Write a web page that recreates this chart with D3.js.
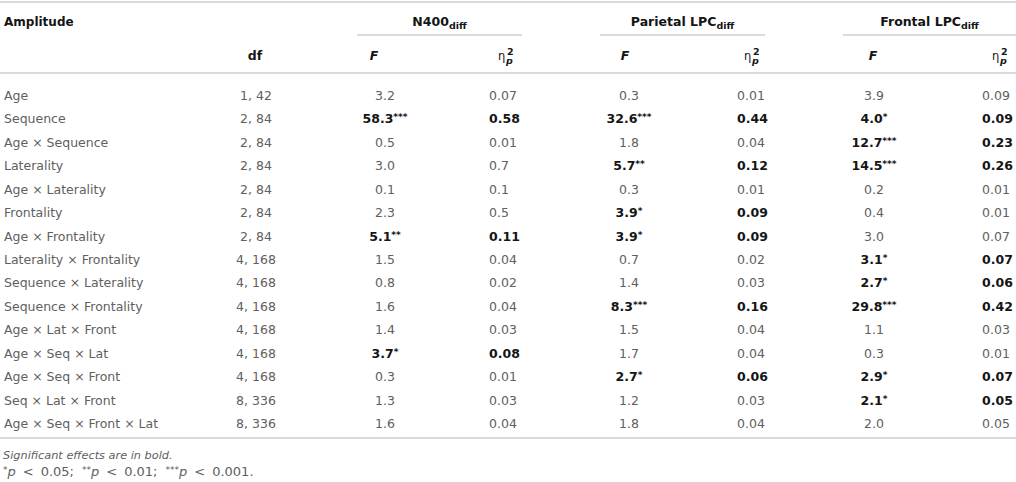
<!DOCTYPE html>
<html>
<head>
<meta charset="utf-8">
<script src="https://cdn.jsdelivr.net/npm/d3@7/dist/d3.min.js"></script>
<style>
  html, body { margin: 0; padding: 0; background: #fff; }
  svg { display: block; }
  text { font-family: "DejaVu Sans", Verdana, sans-serif; }
</style>
</head>
<body>
<svg id="chart" width="1016" height="482"></svg>
<script>
// ---------- data ----------
const effects = [
  "Age", "Sequence", "Age \u00d7 Sequence", "Laterality", "Age \u00d7 Laterality",
  "Frontality", "Age \u00d7 Frontality", "Laterality \u00d7 Frontality",
  "Sequence \u00d7 Laterality", "Sequence \u00d7 Frontality", "Age \u00d7 Lat \u00d7 Front",
  "Age \u00d7 Seq \u00d7 Lat", "Age \u00d7 Seq \u00d7 Front", "Seq \u00d7 Lat \u00d7 Front",
  "Age \u00d7 Seq \u00d7 Front \u00d7 Lat"
];
const dfs = ["1, 42", "2, 84", "2, 84", "2, 84", "2, 84", "2, 84", "2, 84",
  "4, 168", "4, 168", "4, 168", "4, 168", "4, 168", "4, 168", "8, 336", "8, 336"];

const n400F   = ["3.2", "58.3***", "0.5", "3.0", "0.1", "2.3", "5.1**", "1.5", "0.8", "1.6", "1.4", "3.7*", "0.3", "1.3", "1.6"];
const n400Eta = ["0.07", "0.58", "0.01", "0.7", "0.1", "0.5", "0.11", "0.04", "0.02", "0.04", "0.03", "0.08", "0.01", "0.03", "0.04"];
const parF    = ["0.3", "32.6***", "1.8", "5.7**", "0.3", "3.9*", "3.9*", "0.7", "1.4", "8.3***", "1.5", "1.7", "2.7*", "1.2", "1.8"];
const parEta  = ["0.01", "0.44", "0.04", "0.12", "0.01", "0.09", "0.09", "0.02", "0.03", "0.16", "0.04", "0.04", "0.06", "0.03", "0.04"];
const froF    = ["3.9", "4.0*", "12.7***", "14.5***", "0.2", "0.4", "3.0", "3.1*", "2.7*", "29.8***", "1.1", "0.3", "2.9*", "2.1*", "2.0"];
const froEta  = ["0.09", "0.09", "0.23", "0.26", "0.01", "0.01", "0.07", "0.07", "0.06", "0.42", "0.03", "0.01", "0.07", "0.05", "0.05"];

const groupNames = ["N400", "Parietal LPC", "Frontal LPC"];
const groupSub = "diff";
const headerTitle = "Amplitude";
const dfHeader = "df";
const footnote1 = "Significant effects are in bold.";
const footnote2 = [["*", "p", "0.05;"], ["**", "p", "0.01;"], ["***", "p", "0.001."]];

// ---------- layout ----------
const W = 1016, H = 482;
const svg = d3.select("#chart");
const FS = 12.5;
const REG = "#606060", BOLD = "#151515", LINE = "#cfcfcf";

const groups = [
  { name: groupNames[0], F: n400F, eta: n400Eta },
  { name: groupNames[1], F: parF,  eta: parEta },
  { name: groupNames[2], F: froF,  eta: froEta }
];

const groupLayout = {
  "N400":         { l: 357, r: 522, fC: 385, fH: 374, etaL: 489, etaR: 516 },
  "Parietal LPC": { l: 600, r: 765, fC: 629, fH: 625, etaL: 737, etaR: 762 },
  "Frontal LPC":  { l: 843, r: 1016, fC: 874, fH: 873, etaL: 982, etaR: 1010 }
};

const y = d3.scalePoint().domain(d3.range(effects.length)).range([100, 428]);

// lines
const lines = svg.append("g");
function hline(x1, x2, yy, w) {
  lines.append("line").attr("x1", x1).attr("x2", x2).attr("y1", yy).attr("y2", yy)
    .attr("stroke", LINE).attr("stroke-width", w || 1.5);
}
hline(0, W, 2);
hline(0, W, 73);
hline(0, W, 438);
groups.forEach(g => { const L = groupLayout[g.name]; hline(L.l, L.r, 35); });

// header
const hdr = svg.append("g").attr("font-size", FS).attr("fill", BOLD).attr("font-weight", "bold");
hdr.append("text").attr("x", 4).attr("y", 26).attr("font-size", 12).text(headerTitle);
hdr.append("text").attr("x", 255).attr("y", 60).attr("text-anchor", "middle").text(dfHeader);

groups.forEach(g => {
  const L = groupLayout[g.name];
  const t = hdr.append("text").attr("x", (L.l + L.r) / 2).attr("y", 26).attr("text-anchor", "middle");
  t.append("tspan").text(g.name);
  t.append("tspan").attr("font-size", 9.5).attr("dy", 3).text(groupSub);
  hdr.append("text").attr("x", L.fH).attr("y", 60).attr("text-anchor", "middle")
    .attr("font-style", "italic").text("F");
  const eg = hdr.append("g").attr("transform", `translate(${L.etaR},0)`);
  eg.append("text").attr("x", -18).attr("y", 60).attr("text-anchor", "start")
    .attr("font-weight", "normal").attr("font-size", 11.5).text("\u03b7");
  eg.append("text").attr("x", -9).attr("y", 55).attr("font-size", 9.5).text("2");
  eg.append("text").attr("x", -10).attr("y", 64).attr("font-size", 9.5).attr("font-style", "italic").text("p");
});

// body
const body = svg.append("g").attr("font-size", FS);
const rows = body.selectAll("g.row").data(effects).join("g").attr("class", "row")
  .attr("transform", (d, i) => `translate(0,${y(i)})`);

rows.append("text").attr("x", 4).attr("fill", REG).text(d => d);
rows.append("text").attr("x", 256).attr("text-anchor", "middle").attr("fill", REG)
  .text((d, i) => dfs[i]);

function addValue(sel, str, x, anchor) {
  const m = str.match(/^([^*]*)(\**)$/);
  const num = m[1], stars = m[2];
  const bold = stars.length > 0;
  const t = sel.append("text").attr("x", x).attr("text-anchor", anchor)
    .attr("fill", bold ? BOLD : REG).attr("font-weight", bold ? "bold" : "normal");
  t.append("tspan").text(num);
  if (stars) t.append("tspan").attr("font-size", 9).attr("dy", -3).text(stars);
}

groups.forEach(g => {
  const L = groupLayout[g.name];
  rows.each(function(d, i) {
    const r = d3.select(this);
    addValue(r, g.F[i], L.fC, "middle");
    const bold = g.F[i].indexOf("*") >= 0;
    r.append("text").attr("x", L.etaL).attr("fill", bold ? BOLD : REG)
      .attr("font-weight", bold ? "bold" : "normal").text(g.eta[i]);
  });
});

// footnotes
const fn = svg.append("g").attr("font-size", 13).attr("fill", REG);
fn.append("text").attr("x", 3).attr("y", 459).attr("font-size", 11.3)
  .attr("font-style", "italic").text(footnote1);
const f2 = fn.append("text").attr("x", 3).attr("y", 476);
footnote2.forEach((p, k) => {
  f2.append("tspan").attr("font-size", 9).attr("dy", -3).attr("dx", k ? 8 : 0).text(p[0]);
  f2.append("tspan").attr("font-style", "italic").attr("dy", 3).text(p[1]);
  f2.append("tspan").attr("dx", 7).text("<");
  f2.append("tspan").attr("dx", 7).text(p[2]);
});
</script>
</body>
</html>
